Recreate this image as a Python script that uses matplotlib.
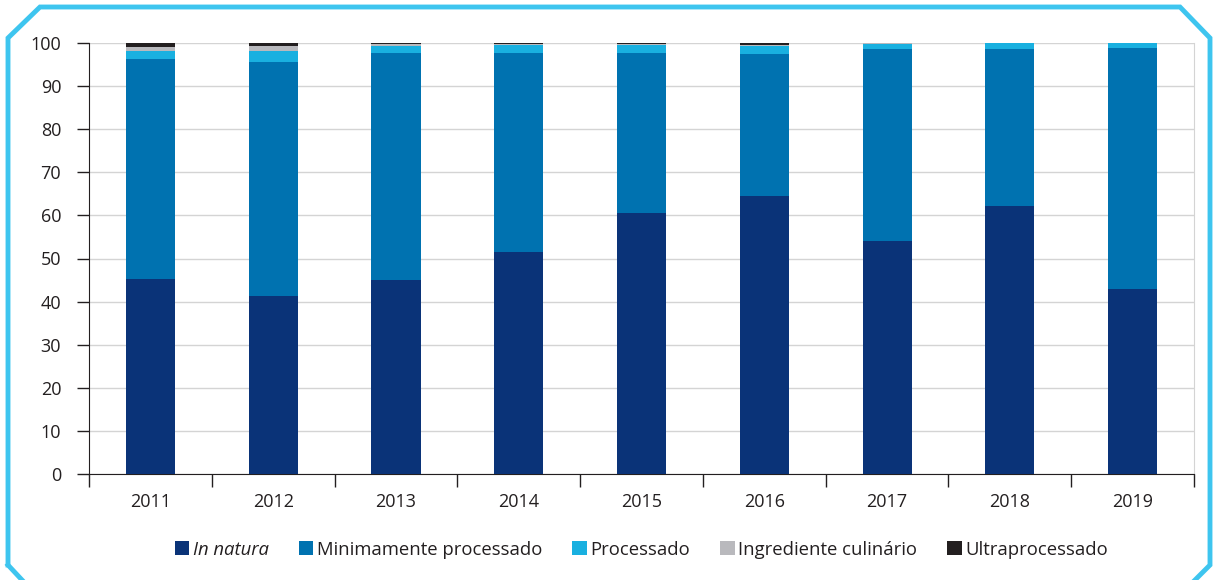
import matplotlib.pyplot as plt
import numpy as np
from matplotlib.lines import Line2D
from matplotlib.patches import Patch

plt.rcParams['font.family'] = ['Open Sans', 'DejaVu Sans']

years = ['2011', '2012', '2013', '2014', '2015', '2016', '2017', '2018', '2019']
in_natura = [45.3, 41.2, 45.0, 51.4, 60.5, 64.5, 54.1, 62.2, 42.9]
minimamente = [51.0, 54.5, 52.6, 46.2, 37.1, 32.9, 44.5, 36.4, 56.0]
processado = [1.9, 2.5, 1.8, 2.0, 2.0, 2.0, 1.2, 1.3, 1.0]
ingrediente = [0.8, 1.1, 0.3, 0.1, 0.1, 0.1, 0.1, 0.1, 0.1]
ultra = [1.0, 0.7, 0.3, 0.3, 0.3, 0.5, 0.1, 0.0, 0.0]

labels = ['In natura', 'Minimamente processado', 'Processado',
          'Ingrediente culinário', 'Ultraprocessado']
colors = ['#0a3378', '#0072b0', '#19b0e0', '#b9b9bd', '#231f20']
series = [in_natura, minimamente, processado, ingrediente, ultra]

fig = plt.figure(figsize=(12.17, 5.80), dpi=100)
ax = fig.add_axes([89 / 1217, 1 - 474 / 580, 1105 / 1217, 431 / 580])

x = np.arange(len(years))
bottom = np.zeros(len(years))
for vals, col in zip(series, colors):
    ax.bar(x, vals, width=0.4, bottom=bottom, color=col, linewidth=0, zorder=3)
    bottom += np.array(vals)

ax.set_xlim(-0.5, len(years) - 0.5)
ax.set_ylim(0, 100)
ax.set_yticks(np.arange(0, 101, 10))
ax.yaxis.grid(True, color='#d4d4d4', linewidth=1, zorder=0)
ax.set_xticks(x)
ax.set_xticklabels(years)
ax.tick_params(axis='x', length=0, pad=14, labelsize=13, colors='#231f20')
ax.tick_params(axis='y', length=9, width=1, labelsize=13, colors='#231f20', pad=11)
# category separators on x axis
ax.set_xticks(np.arange(-0.5, len(years), 1), minor=True)
ax.tick_params(axis='x', which='minor', length=9, width=1, color='#231f20')

ax.spines['top'].set_visible(False)
ax.spines['right'].set_color('#d4d4d4')
ax.spines['left'].set_color('#231f20')
ax.spines['bottom'].set_color('#231f20')

handles = [Patch(facecolor=c, edgecolor='none') for c in colors]
leg = fig.legend(handles, labels, loc='center', bbox_to_anchor=(0.527, 0.052), ncol=5,
                 frameon=False, fontsize=13.3, handlelength=0.8, handleheight=0.8,
                 handletextpad=0.2, columnspacing=1.6)
leg.get_texts()[0].set_style('italic')
for t in leg.get_texts():
    t.set_color('#231f20')

# light blue frame with chamfered corners
W, H = 1217, 580
pts = [(8, 565), (8, 38), (40, 7), (1180, 7), (1210, 38), (1210, 565), (1195, 580)]
xs = [p[0] / W for p in pts]
ys = [1 - p[1] / H for p in pts]
fig.add_artist(Line2D(xs, ys, color='#3ec5ef', linewidth=3.5, transform=fig.transFigure,
                      solid_joinstyle='miter'))
fig.add_artist(Line2D([8 / W, 22 / W], [1 - 565 / H, 0], color='#3ec5ef', linewidth=3.5,
                      transform=fig.transFigure))

fig.savefig('out.png', dpi=100)
